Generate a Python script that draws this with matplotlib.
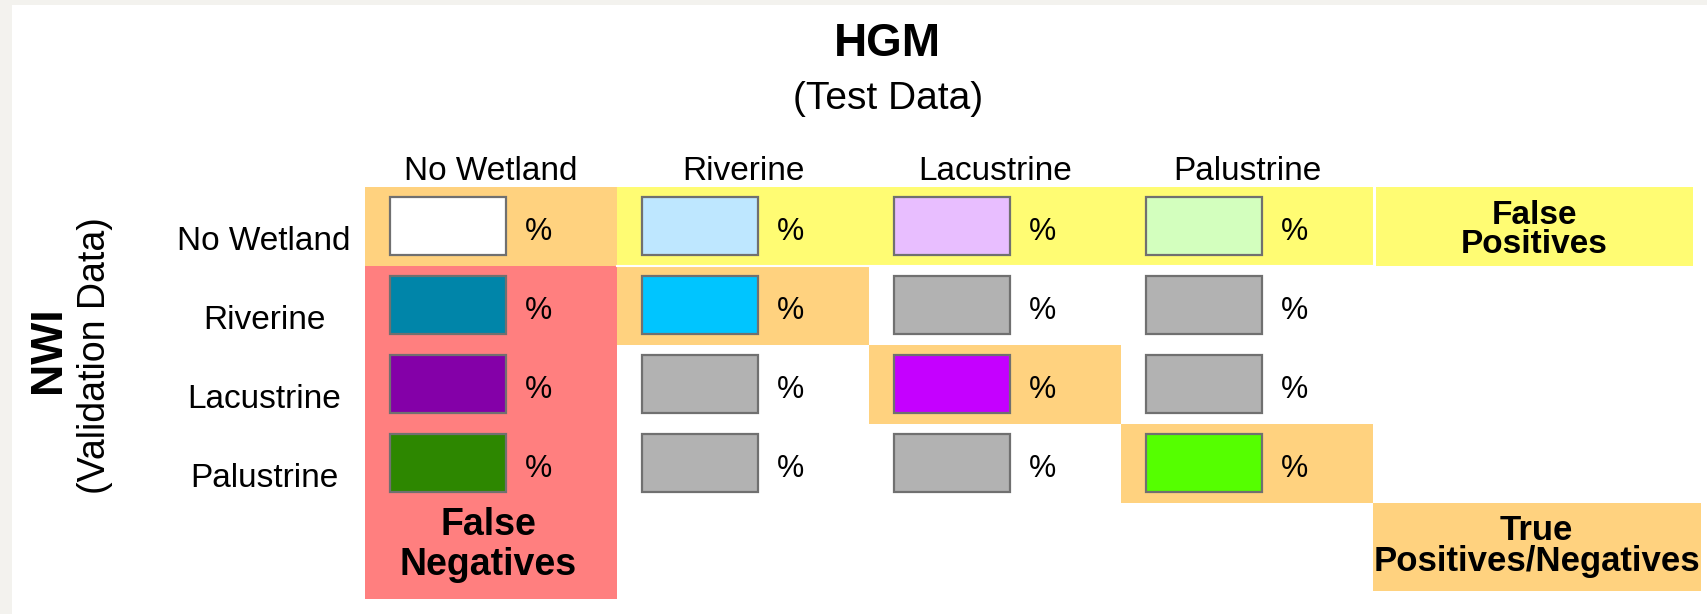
import matplotlib
matplotlib.use("Agg")
import matplotlib.pyplot as plt
from matplotlib.patches import Rectangle

plt.rcParams['font.family'] = ['Liberation Sans', 'DejaVu Sans']

# confusion matrix layout: rows = NWI (validation), cols = HGM (test)
classes = ["No Wetland", "Riverine", "Lacustrine", "Palustrine"]
swatch_colors = [
    ["#FFFFFF", "#BEE7FF", "#E8BEFF", "#D3FFBE"],
    ["#0085A9", "#00C5FF", "#B2B2B2", "#B2B2B2"],
    ["#8400A8", "#B2B2B2", "#C500FF", "#B2B2B2"],
    ["#2D8700", "#B2B2B2", "#B2B2B2", "#55FF00"],
]
cell_text = [
    ["%", "%", "%", "%"],
    ["%", "%", "%", "%"],
    ["%", "%", "%", "%"],
    ["%", "%", "%", "%"],
]
col_title = "HGM"
col_subtitle = "(Test Data)"
row_title = "NWI"
row_subtitle = "(Validation Data)"
fp_label = "False\nPositives"
fn_label = "False\nNegatives"
tp_label = "True\nPositives/Negatives"

ORANGE = "#FFD27F"
YELLOW = "#FFFC73"
RED = "#FF7F7F"
EDGE = "#707070"

W, H = 1708, 614
X0, CW = 365, 252   # grid left edge and cell width (px)
Y0, RH = 187, 79    # grid top edge and row height (px)

fig = plt.figure(figsize=(W / 100, H / 100), dpi=100)
fig.patch.set_facecolor("#F3F2EE")
fig.patches.append(Rectangle((12 / W, 0), 1, 1 - 5 / H, transform=fig.transFigure,
                             facecolor="white", edgecolor="none", zorder=-5))

ax = fig.add_axes([0, 0, 1, 1])
ax.set_xlim(-X0 / CW, (W - X0) / CW)
ax.set_ylim((H - Y0) / RH, -Y0 / RH)
ax.axis("off")

n = len(classes)

# highlight bands
ax.add_patch(Rectangle((0, 1), 1, n - 1 + 1.22, facecolor=RED, edgecolor="none"))
ax.add_patch(Rectangle((1, 0), n - 1, 1, facecolor=YELLOW, edgecolor="none"))
for i in range(n):
    ax.add_patch(Rectangle((i, i), 1, 1, facecolor=ORANGE, edgecolor="none"))
ax.add_patch(Rectangle((n + 0.01, 0), 1.26, 1, facecolor=YELLOW, edgecolor="none"))
ax.add_patch(Rectangle((n, n), 1.3, 1.11, facecolor=ORANGE, edgecolor="none"))
ax.plot([1, n], [1, 1], color="white", lw=1.5)

# swatches and percentages
for r in range(n):
    for c in range(n):
        ax.add_patch(Rectangle((c + 0.10, r + 0.13), 0.46, 0.73,
                               facecolor=swatch_colors[r][c], edgecolor=EDGE, lw=1.6, zorder=3))
        ax.text(c + 0.69, r + 0.57, cell_text[r][c], fontsize=22,
                ha="center", va="center", zorder=4)

# headers
for i, name in enumerate(classes):
    ax.text(i + 0.5, -0.19, name, fontsize=24, ha="center", va="center")
    ax.text(-0.40, i + 0.69, name, fontsize=24, ha="center", va="center")

ax.text(2.075, -1.81, col_title, fontsize=33, fontweight="bold", ha="center", va="center")
ax.text(2.075, -1.12, col_subtitle, fontsize=28, ha="center", va="center")
ax.text(-1.254, 2.06, row_title, fontsize=32, fontweight="bold", rotation=90,
        ha="center", va="center")
ax.text(-1.07, 2.14, row_subtitle, fontsize=27, rotation=90, ha="center", va="center")

ax.text(n + 0.64, 0.55, fp_label, fontsize=24, fontweight="bold",
        ha="center", va="center", linespacing=0.92)
ax.text(n + 0.65, n + 0.55, tp_label, fontsize=25, fontweight="bold",
        ha="center", va="center", linespacing=0.92)
ax.text(0.49, n + 0.53, fn_label, fontsize=27, fontweight="bold",
        ha="center", va="center", linespacing=1.15)

fig.savefig("out.png", dpi=100, facecolor=fig.get_facecolor())
